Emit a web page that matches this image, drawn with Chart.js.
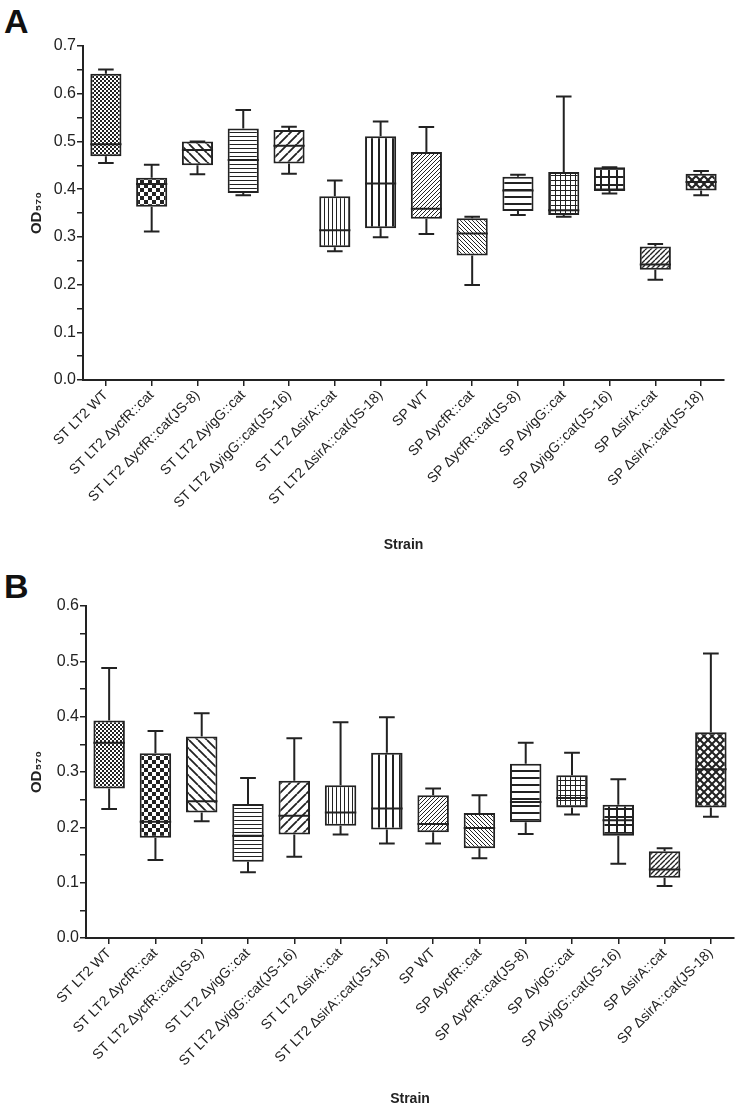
<!DOCTYPE html>
<html>
<head>
<meta charset="utf-8">
<script src="https://cdn.jsdelivr.net/npm/chart.js@4"></script>
<style>
  body { margin: 0; background: #fff; width: 737px; height: 1114px; position: relative; overflow: hidden; }
  canvas { position: absolute; left: 0; }
  .letter { position: absolute; font: bold 34px "Liberation Sans", Arial, sans-serif; color: #111; }
</style>
</head>
<body>
<div class="letter" style="left:4px; top:2px;">A</div>
<canvas id="chartA" width="737" height="560" style="top:0"></canvas>
<div class="letter" style="left:4px; top:567px;">B</div>
<canvas id="chartB" width="737" height="554" style="top:560px"></canvas>
<script>
const strains = [
    'ST LT2 WT', 'ST LT2 ΔycfR::cat', 'ST LT2 ΔycfR::cat(JS-8)', 'ST LT2 ΔyigG::cat',
    'ST LT2 ΔyigG::cat(JS-16)', 'ST LT2 ΔsirA::cat', 'ST LT2 ΔsirA::cat(JS-18)',
    'SP WT', 'SP ΔycfR::cat', 'SP ΔycfR::cat(JS-8)', 'SP ΔyigG::cat',
    'SP ΔyigG::cat(JS-16)', 'SP ΔsirA::cat', 'SP ΔsirA::cat(JS-18)'
];

// panel A
const aMin = [0.455, 0.311, 0.431, 0.387, 0.432, 0.270, 0.299, 0.306, 0.199, 0.346, 0.342, 0.391, 0.210, 0.387];
const aQ1  = [0.469, 0.363, 0.450, 0.392, 0.454, 0.278, 0.318, 0.338, 0.261, 0.354, 0.346, 0.396, 0.231, 0.397];
const aMed = [0.494, 0.411, 0.482, 0.461, 0.491, 0.314, 0.412, 0.359, 0.307, 0.397, 0.356, 0.399, 0.242, 0.415];
const aQ3  = [0.642, 0.424, 0.500, 0.527, 0.524, 0.385, 0.511, 0.478, 0.339, 0.426, 0.436, 0.446, 0.280, 0.432];
const aMax = [0.651, 0.451, 0.500, 0.566, 0.531, 0.418, 0.542, 0.530, 0.342, 0.430, 0.594, 0.446, 0.285, 0.438];

// panel B
const bMin = [0.233, 0.141, 0.211, 0.119, 0.147, 0.187, 0.171, 0.171, 0.144, 0.188, 0.223, 0.134, 0.094, 0.219];
const bQ1  = [0.270, 0.181, 0.227, 0.138, 0.187, 0.203, 0.196, 0.191, 0.162, 0.209, 0.236, 0.185, 0.109, 0.236];
const bMed = [0.353, 0.210, 0.247, 0.185, 0.221, 0.227, 0.234, 0.206, 0.199, 0.246, 0.253, 0.213, 0.124, 0.305];
const bQ3  = [0.393, 0.334, 0.364, 0.242, 0.284, 0.276, 0.335, 0.258, 0.226, 0.315, 0.294, 0.241, 0.157, 0.372];
const bMax = [0.488, 0.374, 0.406, 0.289, 0.361, 0.390, 0.399, 0.270, 0.258, 0.353, 0.335, 0.287, 0.162, 0.514];

const patternKinds = ['fineCheck', 'check', 'diagBack', 'hThin', 'diagFwd', 'vThin', 'vThick',
                      'denseFwd', 'denseBack', 'hThick', 'gridThin', 'gridThick', 'denseFwd2', 'cross'];

const ink = '#222';
const font = '"Liberation Sans", Arial, sans-serif';

function makePattern(kind){
    const c = document.createElement('canvas');
    const size = {fineCheck:4, check:8, diagBack:9, hThin:4, diagFwd:9, vThin:4, vThick:7,
                  denseFwd:4, denseBack:4, hThick:7, gridThin:5, gridThick:8, denseFwd2:5, cross:8}[kind];
    c.width = size; c.height = size;
    const g = c.getContext('2d');
    g.fillStyle = '#fff';
    g.fillRect(0, 0, size, size);
    g.fillStyle = ink;
    g.strokeStyle = ink;
    const diag = (fwd, w) => {
        g.lineWidth = w;
        g.beginPath();
        for (let k = -1; k <= 1; k++){
            if (fwd){ g.moveTo(k*size, size); g.lineTo(k*size + size, 0); }
            else    { g.moveTo(k*size, 0); g.lineTo(k*size + size, size); }
        }
        g.stroke();
    };
    switch(kind){
        case 'fineCheck': g.fillRect(0,0,2,2); g.fillRect(2,2,2,2); break;
        case 'check': g.fillRect(0,0,4,4); g.fillRect(4,4,4,4); break;
        case 'diagBack': diag(false, 1.8); break;
        case 'diagFwd': diag(true, 1.8); break;
        case 'denseFwd': diag(true, 1); break;
        case 'denseBack': diag(false, 1); break;
        case 'denseFwd2': diag(true, 1.4); break;
        case 'hThin': g.fillRect(0,0,size,1); break;
        case 'hThick': g.fillRect(0,0,size,2); break;
        case 'vThin': g.fillRect(0,0,1,size); break;
        case 'vThick': g.fillRect(0,0,2,size); break;
        case 'gridThin': g.fillRect(0,0,size,1); g.fillRect(0,0,1,size); break;
        case 'gridThick': g.fillRect(0,0,size,2); g.fillRect(0,0,2,size); break;
        case 'cross': diag(true, 2); diag(false, 2); break;
    }
    return g.createPattern(c, 'repeat');
}

const patterns = patternKinds.map(makePattern);

function boxPlugin(lo, med, hi){
    return {
        id: 'boxWhiskers',
        afterDatasetsDraw(chart){
            const ctx = chart.ctx;
            const y = chart.scales.y;
            const meta = chart.getDatasetMeta(0);
            ctx.save();
            ctx.strokeStyle = ink;
            ctx.lineWidth = 2;
            meta.data.forEach((bar, i) => {
                const x = bar.x;
                const half = bar.width / 2;
                const cap = bar.width * 0.25;
                const top = chart.data.datasets[0].data[i][1];
                const bot = chart.data.datasets[0].data[i][0];
                ctx.beginPath();
                ctx.moveTo(x, y.getPixelForValue(top)); ctx.lineTo(x, y.getPixelForValue(hi[i]));
                ctx.moveTo(x - cap, y.getPixelForValue(hi[i])); ctx.lineTo(x + cap, y.getPixelForValue(hi[i]));
                ctx.moveTo(x, y.getPixelForValue(bot)); ctx.lineTo(x, y.getPixelForValue(lo[i]));
                ctx.moveTo(x - cap, y.getPixelForValue(lo[i])); ctx.lineTo(x + cap, y.getPixelForValue(lo[i]));
                ctx.moveTo(x - half, y.getPixelForValue(med[i])); ctx.lineTo(x + half, y.getPixelForValue(med[i]));
                ctx.stroke();
            });
            ctx.restore();
        }
    };
}

function boxChart(canvas, yMax, q1, med, q3, lo, hi, yWidth, xHeight, rightPad){
    const data = {
        labels: strains,
        datasets: [{
            data: strains.map((_, i) => [q1[i], q3[i]]),
            backgroundColor: patterns,
            borderColor: ink,
            borderWidth: 2,
            borderSkipped: false,
            barPercentage: 0.68,
            categoryPercentage: 1
        }]
    };

    const config = {
        type: 'bar',
        data: data,
        options: {
            responsive: false,
            animation: false,
            layout: { padding: { left: 26, top: 46, right: rightPad, bottom: 2 } },
            plugins: { legend: { display: false }, tooltip: { enabled: false } },
            scales: {
                x: {
                    grid: { drawOnChartArea: false, offset: false, tickLength: 6, color: ink, lineWidth: 1.5 },
                    border: { color: ink, width: 2 },
                    ticks: { color: ink, font: { family: font, size: 14 }, minRotation: 45, maxRotation: 45, autoSkip: false, padding: 1 },
                    title: { display: true, text: 'Strain', color: ink, font: { family: font, size: 14, weight: 'bold' }, padding: { top: 0, bottom: 4 } },
                    afterFit: (s) => { s.height = xHeight; }
                },
                y: {
                    min: 0, max: yMax,
                    grid: { drawOnChartArea: false, tickLength: 6, color: ink, lineWidth: 1.5 },
                    border: { color: ink, width: 2 },
                    ticks: {
                        stepSize: 0.05, color: ink, padding: 1,
                        font: { family: font, size: 16 },
                        callback: (v) => Math.round(v * 100) % 10 === 0 ? v.toFixed(1) : ''
                    },
                    title: { display: true, text: 'OD₅₇₀', color: ink, font: { family: font, size: 15, weight: 'bold' }, padding: 2 },
                    afterFit: (s) => { s.width = yWidth; }
                }
            }
        },
        plugins: [boxPlugin(lo, med, hi)]
    };

    return new Chart(canvas, config);
}

boxChart(document.getElementById('chartA'), 0.7, aQ1, aMed, aQ3, aMin, aMax, 57, 178, 13);
boxChart(document.getElementById('chartB'), 0.6, bQ1, bMed, bQ3, bMin, bMax, 60, 174, 3);
</script>
</body>
</html>
